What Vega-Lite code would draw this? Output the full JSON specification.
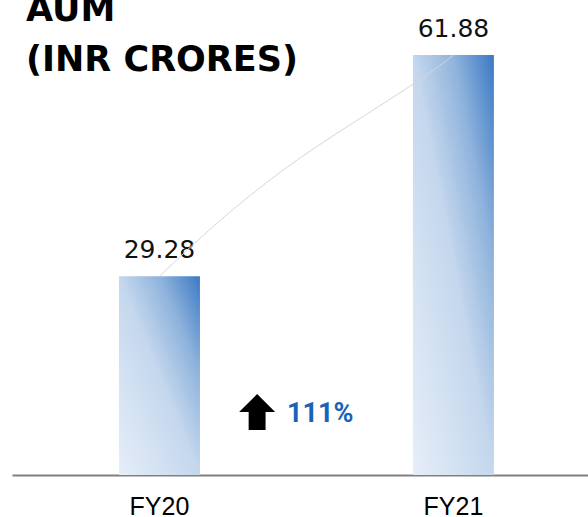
{
  "$schema": "https://vega.github.io/schema/vega-lite/v6.json",
  "width": 576,
  "height": 475,
  "autosize": {"type": "none"},
  "padding": {"left": 12, "top": 0, "right": 0, "bottom": 42},
  "background": "white",
  "config": {"view": {"stroke": null}},
  "title": {
    "text": ["AUM", "(INR CRORES)"],
    "anchor": "start",
    "frame": "group",
    "orient": "top",
    "offset": -106,
    "dx": 14,
    "baseline": "alphabetic",
    "lineHeight": 50,
    "font": "DejaVu Sans",
    "fontSize": 35,
    "fontWeight": "bold",
    "color": "#000000"
  },
  "datasets": {
    "bars": [
      {"year": "FY20", "aum": 29.28, "label": "29.28"},
      {"year": "FY21", "aum": 61.88, "label": "61.88"}
    ],
    "curve": [
      {"t": 0, "v": 29.28},
      {"t": 0.195, "v": 37.1},
      {"t": 0.421, "v": 44.95},
      {"t": 0.648, "v": 51.6},
      {"t": 0.875, "v": 57.96},
      {"t": 1, "v": 61.88}
    ],
    "growth": [
      {"t": 0.332, "v": 9.28, "text": "111%"}
    ]
  },
  "resolve": {"scale": {"x": "independent"}},
  "layer": [
    {
      "data": {"name": "bars"},
      "encoding": {
        "x": {
          "field": "year",
          "type": "nominal",
          "scale": {"paddingInner": 0.7245, "paddingOuter": 0.342, "align": 0.532},
          "axis": {
            "title": null,
            "ticks": false,
            "tickSize": 0,
            "labelPadding": 39,
            "labelBaseline": "alphabetic",
            "labelAngle": 0,
            "labelFont": "Liberation Sans",
            "labelFontSize": 25,
            "labelColor": "#000000",
            "domainColor": "#808080",
            "domainWidth": 2,
            "grid": false
          }
        },
        "y": {
          "field": "aum",
          "type": "quantitative",
          "scale": {"domain": [0, 70], "nice": false, "zero": true},
          "axis": null
        }
      },
      "layer": [
        {
          "mark": {
            "type": "bar",
            "color": {
              "gradient": "linear",
              "x1": 0, "y1": 1, "x2": 1, "y2": 0,
              "stops": [
                {"offset": 0, "color": "#e6eef8"},
                {"offset": 0.5, "color": "#c4d7ed"},
                {"offset": 0.75, "color": "#8fb3dc"},
                {"offset": 1, "color": "#3a79c4"}
              ]
            }
          }
        },
        {
          "mark": {
            "type": "text",
            "baseline": "alphabetic",
            "dy": -18,
            "font": "DejaVu Sans",
            "fontSize": 25,
            "color": "#111111"
          },
          "encoding": {"text": {"field": "label"}}
        }
      ]
    },
    {
      "encoding": {
        "x": {
          "field": "t",
          "type": "quantitative",
          "scale": {"domain": [0, 1], "range": [147.5, 441.5], "nice": false, "zero": false},
          "axis": null
        },
        "y": {
          "field": "v",
          "type": "quantitative",
          "scale": {"domain": [0, 70], "nice": false, "zero": true},
          "axis": null
        }
      },
      "layer": [
        {
          "data": {"name": "curve"},
          "mark": {"type": "line", "interpolate": "natural", "color": "#d6d6d6", "strokeWidth": 1}
        },
        {
          "data": {"name": "growth"},
          "mark": {
            "type": "point",
            "shape": "M 0 -1 L 1 0 L 0.47 0 L 0.47 1 L -0.47 1 L -0.47 0 L -1 0 Z",
            "size": 1296,
            "filled": true,
            "color": "#000000",
            "opacity": 1,
            "strokeWidth": 0
          }
        },
        {
          "data": {"name": "growth"},
          "mark": {
            "type": "text",
            "align": "left",
            "baseline": "alphabetic",
            "dx": 30,
            "dy": 10,
            "font": "Roboto",
            "fontSize": 27,
            "fontWeight": "bold",
            "color": "#1a62b8"
          },
          "encoding": {"text": {"field": "text"}}
        }
      ]
    }
  ]
}
